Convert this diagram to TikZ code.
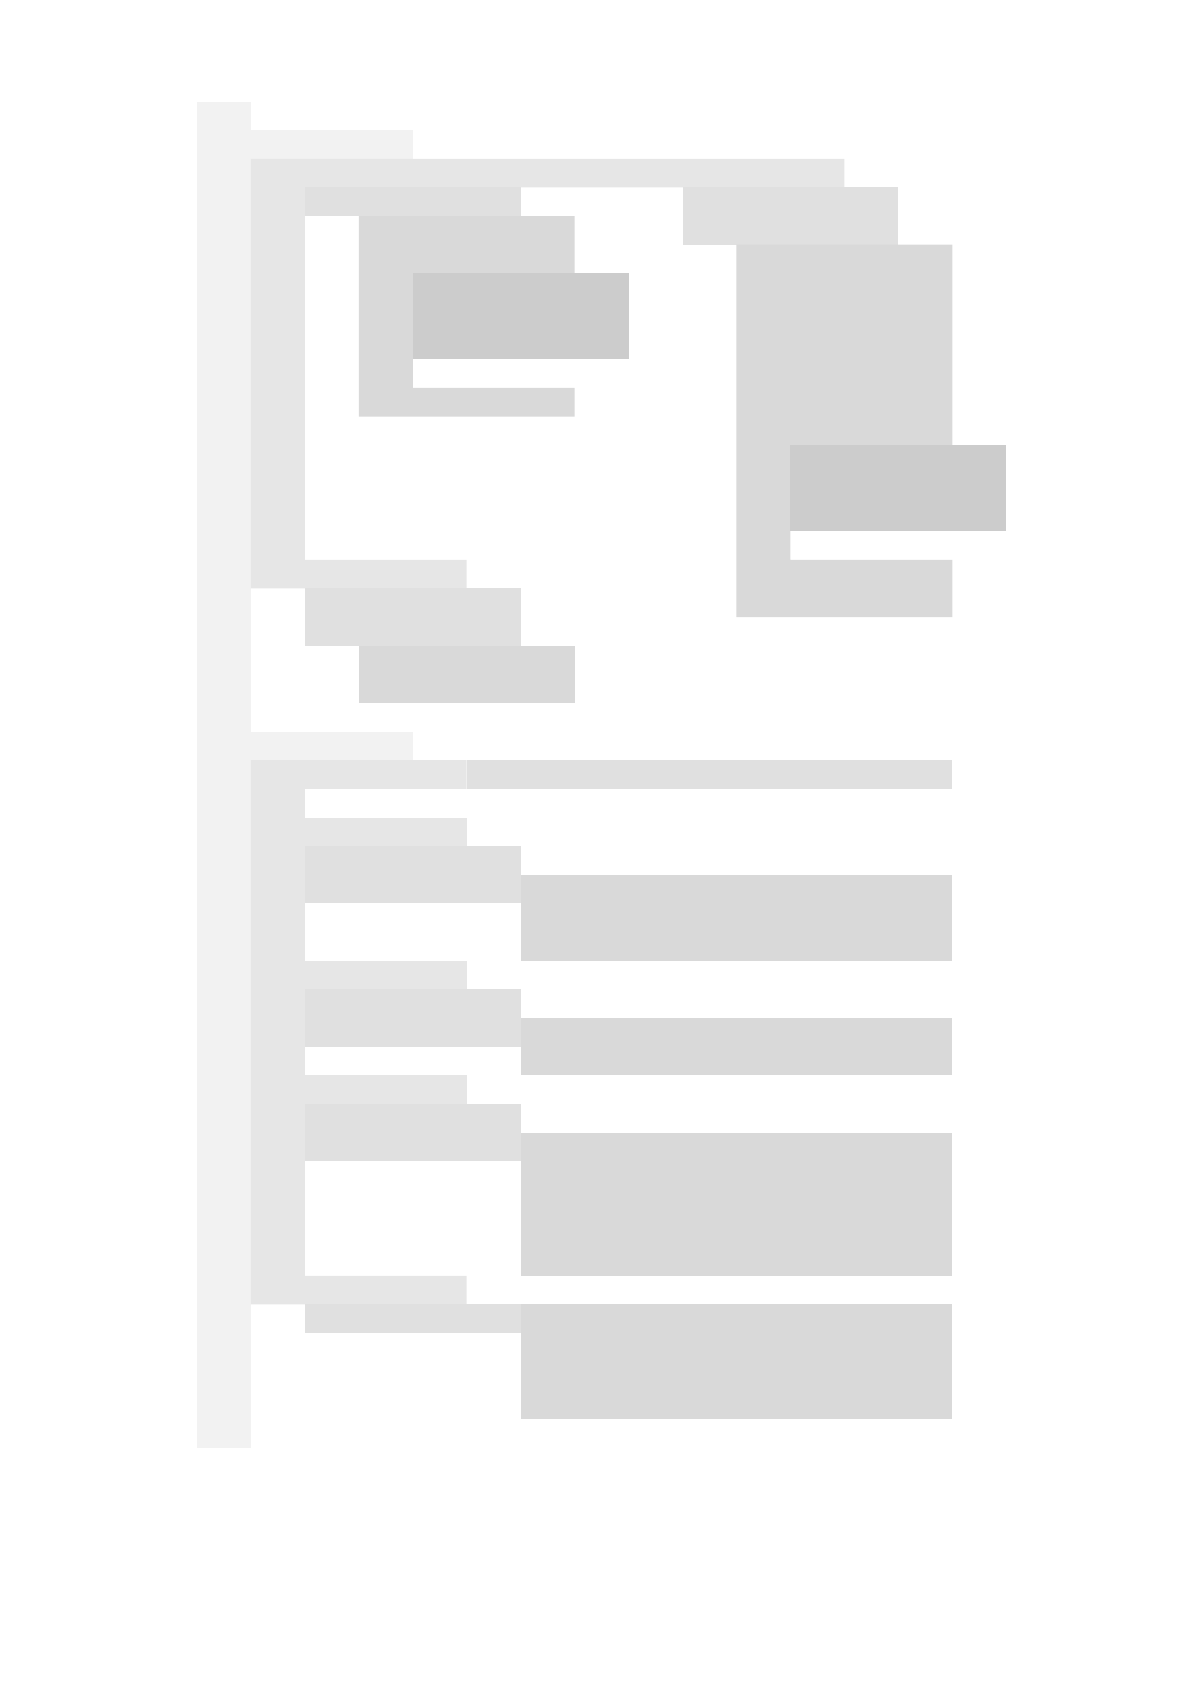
\documentclass[tikz,border=0pt]{standalone}
\definecolor{shadeA}{HTML}{F2F2F2}
\definecolor{shadeB}{HTML}{E6E6E6}
\definecolor{shadeC}{HTML}{E0E0E0}
\definecolor{shadeD}{HTML}{D9D9D9}
\definecolor{shadeE}{HTML}{CCCCCC}
\begin{document}
\begin{tikzpicture}[x=26.975pt,y=-14.32pt]
  \useasboundingbox (-3.6515,-3.545) rectangle (18.424,55.22);

  % outer column and hats
  \fill[shadeA] (0,0) rectangle (1,47);
  \fill[shadeA] (1,1) rectangle (4,2);
  \fill[shadeA] (1,22) rectangle (4,23);

  % first wrapper
  \fill[shadeB] (1,2) -- (12,2) -- (12,3) -- (2,3) -- (2,16) -- (5,16) -- (5,17) -- (1,17) -- cycle;
  \fill[shadeC] (2,3) rectangle (6,4);
  \fill[shadeD] (3,4) -- (7,4) -- (7,6) -- (4,6) -- (4,10) -- (7,10) -- (7,11) -- (3,11) -- cycle;
  \fill[shadeE] (4,6) rectangle (8,9);

  \fill[shadeC] (9,3) rectangle (13,5);
  \fill[shadeD] (10,5) -- (14,5) -- (14,12) -- (11,12) -- (11,16) -- (14,16) -- (14,18) -- (10,18) -- cycle;
  \fill[shadeE] (11,12) rectangle (15,15);

  \fill[shadeC] (2,17) rectangle (6,19);
  \fill[shadeD] (3,19) rectangle (7,21);

  % second wrapper
  \fill[shadeB] (1,23) -- (5,23) -- (5,24) -- (2,24) -- (2,41) -- (5,41) -- (5,42) -- (1,42) -- cycle;
  \fill[shadeC] (5,23) rectangle (14,24);

  \fill[shadeB] (2,25) rectangle (5,26);
  \fill[shadeC] (2,26) rectangle (6,28);
  \fill[shadeD] (6,27) rectangle (14,30);

  \fill[shadeB] (2,30) rectangle (5,31);
  \fill[shadeC] (2,31) rectangle (6,33);
  \fill[shadeD] (6,32) rectangle (14,34);

  \fill[shadeB] (2,34) rectangle (5,35);
  \fill[shadeC] (2,35) rectangle (6,37);
  \fill[shadeD] (6,36) rectangle (14,41);

  \fill[shadeC] (2,42) rectangle (6,43);
  \fill[shadeD] (6,42) rectangle (14,46);
\end{tikzpicture}
\end{document}
